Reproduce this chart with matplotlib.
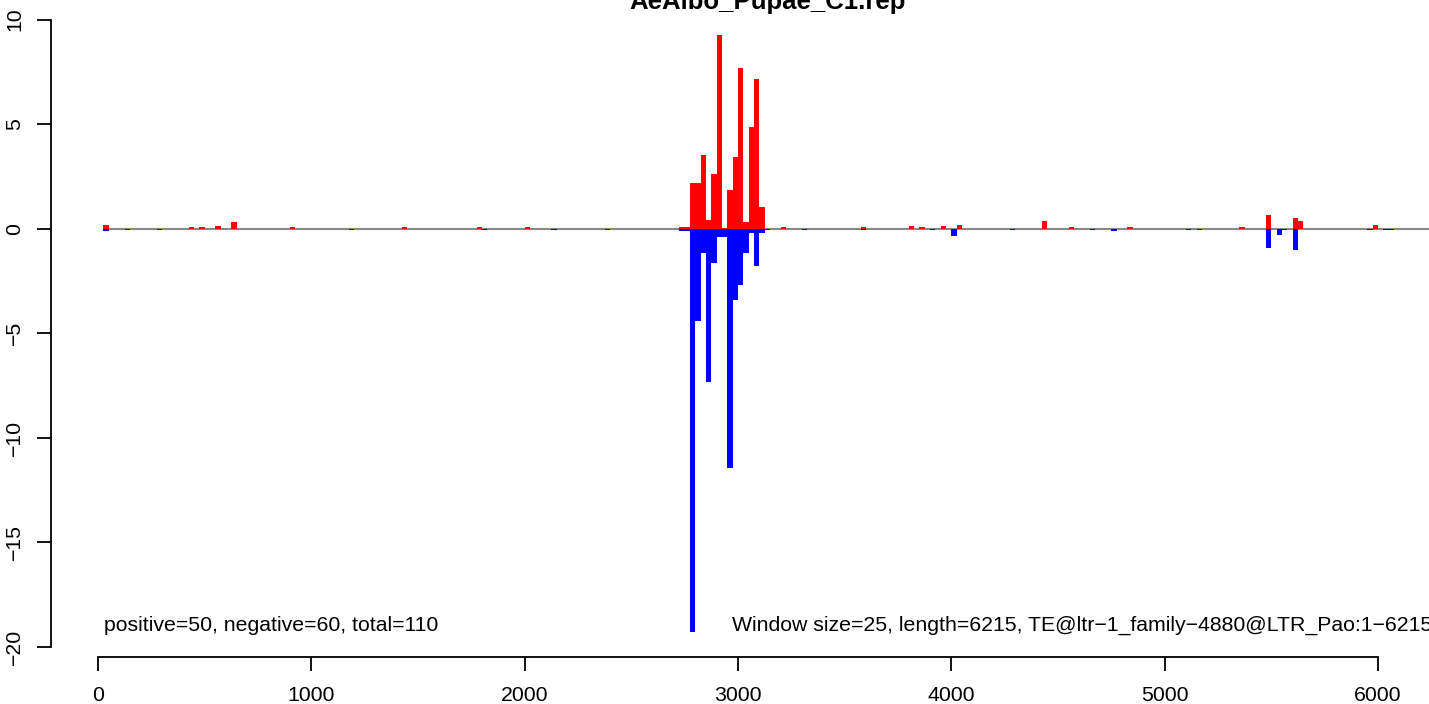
import matplotlib
matplotlib.use("Agg")
import matplotlib.pyplot as plt

plt.rcParams["font.family"] = ["Liberation Sans", "DejaVu Sans"]

# window starts (bp) and normalised counts
window = 25
pos_x = [25, 425, 475, 550, 625, 900, 1425, 1775, 2000, 2725, 2750, 2775, 2800, 2825, 2850,
         2875, 2900, 2925, 2950, 2975, 3000, 3025, 3050, 3075, 3100, 3200, 3575, 3800, 3850,
         3950, 4025, 4425, 4550, 4825, 5350, 5475, 5600, 5625, 5975]
pos_y = [0.18, 0.08, 0.08, 0.13, 0.32, 0.08, 0.08, 0.08, 0.08, 0.08, 0.08, 2.19, 2.19, 3.52, 0.42,
         2.62, 9.27, 0.05, 1.85, 3.43, 7.69, 0.32, 4.87, 7.16, 1.04, 0.08, 0.08, 0.13, 0.08,
         0.13, 0.18, 0.37, 0.08, 0.08, 0.08, 0.66, 0.51, 0.37, 0.18]
neg_x = [25, 125, 275, 1175, 1800, 2125, 2375, 2725, 2750, 2775, 2800, 2825, 2850, 2875, 2900,
         2925, 2950, 2975, 3000, 3025, 3050, 3075, 3100, 3125, 3300, 3575, 3900, 4000, 4275,
         4650, 4750, 5100, 5150, 5475, 5525, 5550, 5600, 5950, 6025, 6050]
neg_y = [-0.11, -0.07, -0.07, -0.07, -0.07, -0.07, -0.07, -0.10, -0.10, -19.30, -4.40, -1.17, -7.32,
         -1.66, -0.38, -0.38, -11.43, -3.41, -2.68, -1.15, -0.20, -1.77, -0.19, -0.07, -0.07,
         -0.07, -0.07, -0.35, -0.07, -0.07, -0.13, -0.07, -0.07, -0.91, -0.29, -0.07, -1.02,
         -0.07, -0.07, -0.07]
x_ticks = [0, 1000, 2000, 3000, 4000, 5000, 6000]
y_ticks = [-20, -15, -10, -5, 0, 5, 10]
title = "AeAlbo_Pupae_C1.rep"
left_note = "positive=50, negative=60, total=110"
right_note = "Window size=25, length=6215, TE@ltr\u22121_family\u22124880@LTR_Pao:1\u22126215"

fig = plt.figure(figsize=(14.29, 7.04), dpi=100)
ax = fig.add_axes([0, 0, 1, 1])
ax.set_xlim(-459.4, 6239.3)
ax.set_ylim(-22.74, 10.94)

ax.hlines(0, 25, 6300, color="#888888", lw=1.5, zorder=1)
ax.bar(pos_x, pos_y, width=window, align="edge", color="red", lw=0, zorder=2)
ax.bar(neg_x, neg_y, width=window, align="edge", color="blue", lw=0, zorder=3)

# R-style detached axes
for side in ("top", "right"):
    ax.spines[side].set_visible(False)
ax.spines["left"].set_position(("data", -220.3))
ax.spines["left"].set_bounds(-20, 10)
ax.spines["bottom"].set_position(("data", -20.48))
ax.spines["bottom"].set_bounds(0, 6000)
for s in ("left", "bottom"):
    ax.spines[s].set_linewidth(1.3)
ax.set_xticks(x_ticks)
ax.set_xticklabels([str(v) for v in x_ticks])
ax.set_yticks(y_ticks)
ax.set_yticklabels([str(v).replace("-", "\u2212") for v in y_ticks])
ax.tick_params(direction="out", length=10, width=1.3, labelsize=15.3)
ax.tick_params(axis="x", pad=11)
ax.tick_params(axis="y", pad=16, labelrotation=90)
for lab in ax.get_yticklabels():
    lab.set_ha("center")
    lab.set_va("center")

ax.text(3140, 10.51, title, ha="center", va="baseline", fontsize=18.5, fontweight="bold")
ax.text(28, -19.0, left_note, ha="left", va="center", fontsize=15.3)
ax.text(2972, -19.0, right_note, ha="left", va="center", fontsize=15.3)

fig.savefig("out.png", dpi=100)
